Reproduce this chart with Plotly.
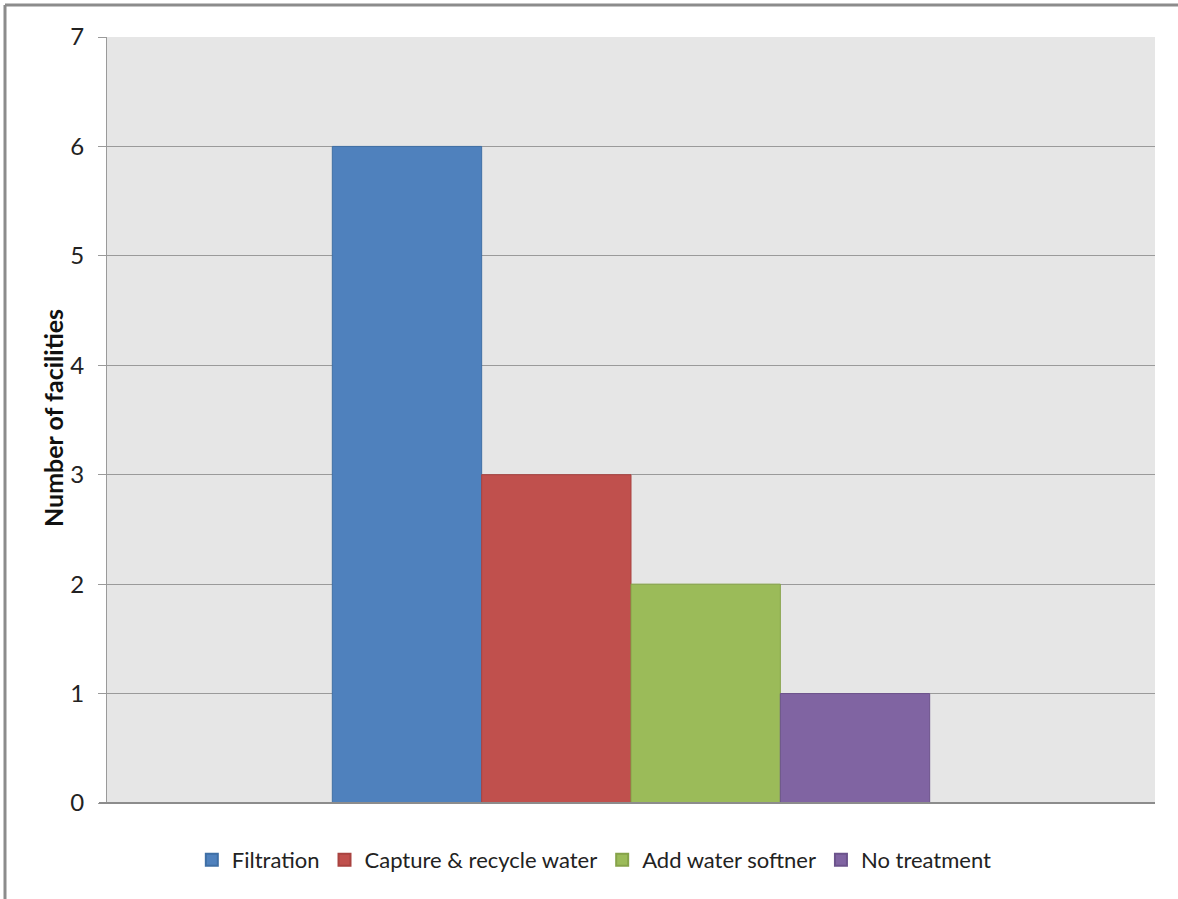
import plotly.graph_objects as go

categories = ["Treatment"]
series_names = ["Filtration", "Capture & recycle water", "Add water softner", "No treatment"]
series_values = [6, 3, 2, 1]
series_colors = ["#4F81BD", "#C0504D", "#9BBB59", "#8064A2"]
border_colors = ["#3F6FA5", "#A94340", "#86A34A", "#6C538C"]
y_ticks = [0, 1, 2, 3, 4, 5, 6, 7]
y_title = "Number of facilities"

W, H = 1178, 899
L, R, T, B = 107, 23, 37, 96
pw, ph = W - L - R, H - T - B

fig = go.Figure()
for name, val, col, bc in zip(series_names, series_values, series_colors, border_colors):
    fig.add_trace(go.Bar(x=categories, y=[val], name=name,
                         marker=dict(color=col, line=dict(color=bc, width=1))))

fig.update_layout(
    width=W, height=H,
    margin=dict(l=L, r=R, t=T, b=B),
    paper_bgcolor="white",
    plot_bgcolor="#E6E6E6",
    barmode="group",
    bargap=0.43,
    bargroupgap=0,
    font=dict(family="Lato, Open Sans, sans-serif", color="#222", size=22),
    showlegend=True,
    legend=dict(orientation="h", x=0.465, xanchor="center", y=(803 - 860) / ph,
                yanchor="middle", font=dict(size=22), itemsizing="constant",
                traceorder="normal", itemwidth=30, tracegroupgap=0),
    xaxis=dict(showticklabels=False, showgrid=False, zeroline=False,
               showline=False, ticks=""),
    yaxis=dict(range=[0, 7], tickvals=y_ticks, showgrid=True, gridcolor="#9A9A9A",
               gridwidth=1, zeroline=False, showline=True, linecolor="#9A9A9A",
               linewidth=1, ticks="outside", ticklen=8, tickcolor="#9A9A9A",
               tickfont=dict(size=24), ticklabelstandoff=9),
)

fig.add_annotation(text="<b>" + y_title + "</b>", textangle=-90, xref="paper", yref="paper",
                   x=(53 - L) / pw, y=(803 - 418) / ph, xanchor="center", yanchor="middle",
                   showarrow=False, font=dict(size=25, color="#111"))

# bottom axis (zero line) thicker
fig.add_shape(type="line", xref="paper", yref="paper", x0=(99 - L) / pw, x1=1.0,
              y0=0, y1=0, line=dict(color="#8C8C8C", width=2))
# chart frame (left and top)
fx = (5 - L) / pw
fy = (H - B - 5) / ph
fig.add_shape(type="line", xref="paper", yref="paper", x0=fx, x1=fx, y0=fy, y1=-1,
              line=dict(color="#8C8C8C", width=3))
fig.add_shape(type="line", xref="paper", yref="paper", x0=fx, x1=2, y0=fy, y1=fy,
              line=dict(color="#8C8C8C", width=3))

fig.write_html("out.html")
